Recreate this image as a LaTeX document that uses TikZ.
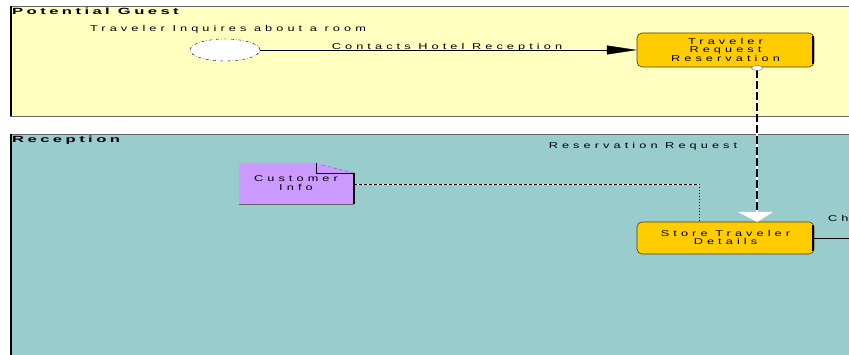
\documentclass[tikz,border=0pt]{standalone}
\usepackage{fontspec}
\setmainfont{Liberation Sans}
\newfontfamily\spf[FakeStretch=1.5,LetterSpace=48]{Liberation Sans}
\newfontfamily\spb[FakeStretch=1.85,LetterSpace=38]{Liberation Sans Bold}
\usetikzlibrary{arrows.meta,shapes.geometric}
\definecolor{laneA}{HTML}{FFFFC0}
\definecolor{laneB}{HTML}{99CCCC}
\definecolor{taskc}{HTML}{FFCC00}
\definecolor{datac}{HTML}{CC99FF}
\definecolor{edgeg}{HTML}{666666}
\tikzset{
  x=1pt,y=-1pt,
  lbl/.style={inner sep=0pt,font=\spf\fontsize{8.5}{8.5}\selectfont,align=center},
  lanetitle/.style={inner sep=0pt,anchor=west,font=\spb\fontsize{9}{9}\selectfont},
  taskbox/.style={draw=black!70!taskc,fill=taskc,rounded corners=5pt,line width=0.6pt},
}
\begin{document}
\begin{tikzpicture}
\useasboundingbox (0,0) rectangle (849,355);
\clip (0,0) rectangle (849,355);
% lanes
\fill[laneA] (10,6) rectangle (860,116);
\draw[edgeg] (10,6) -- (860,6) (10,116) -- (860,116);
\fill[black] (10,6) rectangle (12,116);
\fill[laneB] (10,134) rectangle (860,365);
\draw[edgeg] (10,134) -- (860,134);
\fill[black] (10,134) rectangle (12,365);
\node[lanetitle] (t1) at (12,11) {Potential Guest};
\node[lanetitle] (t2) at (12,140) {Reception};
% start event
\node[ellipse,draw=black,dash dot,fill=white,minimum width=70pt,minimum height=22pt,inner sep=0pt] (start) at (225,50) {};
\node[lbl] (startlbl) at (228,29) {Traveler Inquires about a room};
% tasks
\path[taskbox] (637,33) rectangle (814,67);
\node[inner sep=0pt,minimum width=177pt,minimum height=34pt] (task1) at (725.5,50) {};
\draw[black,line width=2pt] (813,36) -- (813,64);
\node[lbl] (task1t) at (725.5,49.5) {Traveler\\Request\\Reservation};
\path[taskbox] (637,222) rectangle (814,254);
\node[inner sep=0pt,minimum width=177pt,minimum height=32pt] (task2) at (725.5,238) {};
\draw[black,line width=2pt] (813,225) -- (813,251);
\node[lbl] (task2t) at (725.5,237.5) {Store Traveler\\Details};
% sequence flow
\draw[black,-{Triangle[length=30pt,width=9pt]}] (start.east) -- (task1.west |- start.east);
\node[lbl] (seqlbl) at (447,47) {Contacts Hotel Reception};
% message flow
\coordinate (mfs) at (757,68);
\coordinate (mfe) at (757,222);
\draw[white,line width=2pt] (757,70) -- (757,212);
\draw[black,line width=2pt,dash pattern=on 8pt off 3pt] (757,70) -- (757,212);
\fill[white] (738,212) -- (773,212) -- (757,222) -- cycle;
\node[ellipse,draw=black!60,fill=white,minimum width=11pt,minimum height=5pt,inner sep=0pt] (mfc) at (mfs) {};
\node[lbl] (msglbl) at (643,146) {Reservation Request};
% data object
\path[fill=datac] (239,163) -- (316,163) -- (354,173) -- (354,204) -- (239,204) -- cycle;
\draw[edgeg] (239,204) -- (354,204);
\draw[black,line width=1.2pt] (354,173) -- (354,204);
\draw[black] (316,163) -- (316,173) -- (354,173);
\draw[black!60,dashed] (322,165) -- (354,173);
\node[inner sep=0pt,minimum width=115pt,minimum height=41pt] (data) at (296.5,183.5) {};
\node[lbl] (datat) at (296,183) {Customer\\Info};
% association
\coordinate (ac) at (699,184);
\draw[white] (data.east |- ac) -- (ac);
\draw[black,dash pattern=on 3pt off 2pt] (data.east |- ac) -- (ac);
\draw[black,line width=1pt,dotted] (ac) -- (task2.north -| ac);
% outgoing
\coordinate (out) at (860,238);
\draw[black] (task2.east) -- (out);
\node[lbl,anchor=west] (chlbl) at (828,218) {Ch};
\end{tikzpicture}
\end{document}
